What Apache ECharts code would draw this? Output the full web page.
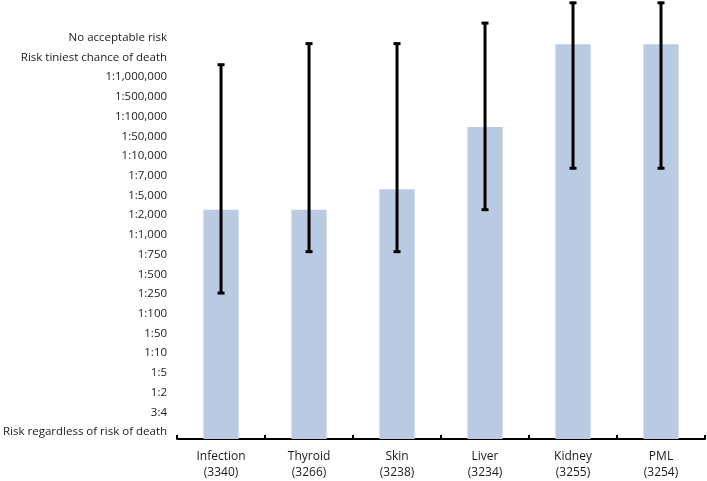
<!DOCTYPE html>
<html>
<head>
<meta charset="utf-8">
<script src="https://cdn.jsdelivr.net/npm/echarts@6/dist/echarts.min.js"></script>
<style>html,body{margin:0;padding:0;background:#fff}#c{width:707px;height:481px}</style>
</head>
<body>
<div id="c"></div>
<script>
const categories = ['Infection\n(3340)', 'Thyroid\n(3266)', 'Skin\n(3238)', 'Liver\n(3234)', 'Kidney\n(3255)', 'PML\n(3254)'];
const riskLabels = ['Risk regardless of risk of death', '3:4', '1:2', '1:5', '1:10', '1:50', '1:100', '1:250', '1:500', '1:750', '1:1,000', '1:2,000', '1:5,000', '1:7,000', '1:10,000', '1:50,000', '1:100,000', '1:500,000', '1:1,000,000', 'Risk tiniest chance of death', 'No acceptable risk'];
const tickValues = riskLabels.map((_, i) => i);
const meanValues = [11.28, 11.28, 12.32, 15.47, 19.67, 19.67];
const errLow = [7.05, 9.15, 9.15, 11.28, 13.38, 13.38];
const errHigh = [18.63, 19.70, 19.70, 20.74, 21.77, 21.77];
const yMin = -0.35;
const yMax = 20;

const chart = echarts.init(document.getElementById('c'), null, {renderer: 'canvas'});
const font = '"Open Sans", "Noto Sans", sans-serif';
chart.setOption({
  animation: false,
  backgroundColor: '#ffffff',
  grid: {left: 176, right: 2, top: 37.7, bottom: 39, containLabel: false},
  xAxis: {
    type: 'category',
    data: categories,
    axisLine: {onZero: false, lineStyle: {color: '#000', width: 2}},
    axisTick: {show: true, inside: true, length: 4, lineStyle: {color: '#000', width: 2}},
    axisLabel: {color: '#1a1a1a', fontFamily: font, fontSize: 12, lineHeight: 16, margin: 10}
  },
  yAxis: {
    type: 'value',
    min: yMin,
    max: yMax,
    splitLine: {show: false},
    axisLine: {show: false},
    axisTick: {show: false},
    axisLabel: {
      customValues: tickValues,
      formatter: v => riskLabels[Math.round(v)] || '',
      color: '#1a1a1a', fontFamily: font, fontSize: 11.5, margin: 10
    }
  },
  series: [
    {
      type: 'custom',
      data: meanValues.map((v, i) => [i, v]),
      renderItem: function (params, api) {
        const top = api.coord([api.value(0), api.value(1)]);
        const base = api.coord([api.value(0), yMin]);
        const w = api.size([1, 0])[0] * 0.4;
        return {
          type: 'rect',
          shape: {x: top[0] - w / 2, y: top[1], width: w, height: base[1] - top[1]},
          style: {fill: '#bbcae3'}
        };
      }
    },
    {
      type: 'custom',
      clip: false,
      z: 10,
      data: categories.map((c, i) => [i, errLow[i], errHigh[i]]),
      renderItem: function (params, api) {
        const lo = api.coord([api.value(0), api.value(1)]);
        const hi = api.coord([api.value(0), api.value(2)]);
        const x = lo[0];
        const cap = 3.5;
        const st = {stroke: '#000', lineWidth: 3};
        return {
          type: 'group',
          children: [
            {type: 'line', shape: {x1: x, y1: lo[1], x2: x, y2: hi[1]}, style: st},
            {type: 'line', shape: {x1: x - cap, y1: lo[1], x2: x + cap, y2: lo[1]}, style: st},
            {type: 'line', shape: {x1: x - cap, y1: hi[1], x2: x + cap, y2: hi[1]}, style: st}
          ]
        };
      }
    }
  ]
});
</script>
</body>
</html>
